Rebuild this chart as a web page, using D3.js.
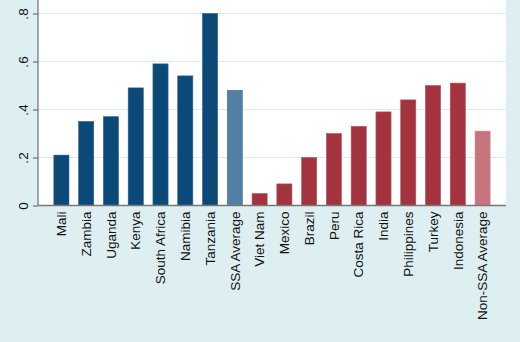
<!DOCTYPE html>
<html><head><meta charset="utf-8">
<script src="https://cdn.jsdelivr.net/npm/d3@7"></script>
<style>body{margin:0;background:#deeff2;}svg{display:block;}</style>
</head><body>
<svg id="chart" width="520" height="342"></svg>
<script>
const categories = ["Mali","Zambia","Uganda","Kenya","South Africa","Namibia","Tanzania","SSA Average","Viet Nam","Mexico","Brazil","Peru","Costa Rica","India","Philippines","Turkey","Indonesia","Non-SSA Average"];
const values = [0.21,0.35,0.37,0.49,0.59,0.54,0.80,0.48,0.05,0.09,0.20,0.30,0.33,0.39,0.44,0.50,0.51,0.31];
const groups = ["ssa","ssa","ssa","ssa","ssa","ssa","ssa","ssaAvg","non","non","non","non","non","non","non","non","non","nonAvg"];
const yTicks = [0,0.2,0.4,0.6,0.8];
const yTickLabels = ["0",".2",".4",".6",".8"];

const colors = {ssa:"#0b4a78", ssaAvg:"#5380a2", non:"#a3343f", nonAvg:"#c8747d"};
const strokes = {ssa:"#2d5f87", ssaAvg:"#46769a", non:"#b8535d", nonAvg:"#d08b92"};

const svg = d3.select("#chart");
const plotLeft = 38, plotRight = 506, plotTop = 0, plotBottom = 205.5;

svg.append("rect").attr("x",0).attr("y",0).attr("width",520).attr("height",342).attr("fill","#deeff2");
svg.append("rect").attr("x",plotLeft).attr("y",plotTop).attr("width",plotRight-plotLeft).attr("height",plotBottom-plotTop).attr("fill","#ffffff");

const x = d3.scaleBand().domain(categories).range([plotLeft,plotRight]).paddingInner(0.39).paddingOuter(0.64);
const y = d3.scaleLinear().domain([0,0.8]).range([plotBottom,13.5]);

// gridlines
svg.append("g").selectAll("line").data(yTicks.filter(d=>d>0)).join("line")
  .attr("x1",plotLeft).attr("x2",plotRight).attr("y1",d=>y(d)).attr("y2",d=>y(d))
  .attr("stroke","#d9ebf0").attr("stroke-width",1.2);

// bars
svg.append("g").selectAll("rect").data(categories).join("rect")
  .attr("x",d=>x(d)).attr("width",x.bandwidth())
  .attr("y",(d,i)=>y(values[i])).attr("height",(d,i)=>y(0)-y(values[i]))
  .attr("fill",(d,i)=>colors[groups[i]])
  .attr("stroke",(d,i)=>strokes[groups[i]]).attr("stroke-width",0.6);

// y axis
const yAxis = d3.axisLeft(y).tickValues(yTicks).tickFormat((d,i)=>yTickLabels[i]).tickSize(5).tickPadding(4);
const gy = svg.append("g").attr("transform",`translate(${plotLeft},0)`).call(yAxis);
gy.select(".domain").attr("stroke","#6e6e6e").attr("stroke-width",1.2).attr("d",`M0,${plotTop}V${plotBottom}`);
gy.selectAll(".tick line").attr("stroke","#6e6e6e").attr("stroke-width",1.2);
gy.selectAll(".tick text")
  .attr("font-family","Liberation Sans, Arial, sans-serif").attr("font-size",13.5).attr("fill","#111")
  .attr("text-anchor","middle").attr("x",0).attr("y",0).attr("dy","0.35em")
  .attr("transform","translate(-15,0) rotate(-90)");

// x axis
const xAxis = d3.axisBottom(x).tickSize(0).tickPadding(0);
const gx = svg.append("g").attr("transform",`translate(0,${plotBottom})`).call(xAxis);
gx.select(".domain").attr("stroke","#777").attr("stroke-width",1.5).attr("d",`M${plotLeft},0H${plotRight}`);
gx.selectAll(".tick text")
  .attr("font-family","Liberation Sans, Arial, sans-serif").attr("font-size",13.5).attr("fill","#111")
  .attr("transform","translate(0,6) rotate(-90)").attr("x",0).attr("y",0).attr("dy","0.35em").attr("text-anchor","end");
</script>
</body></html>
